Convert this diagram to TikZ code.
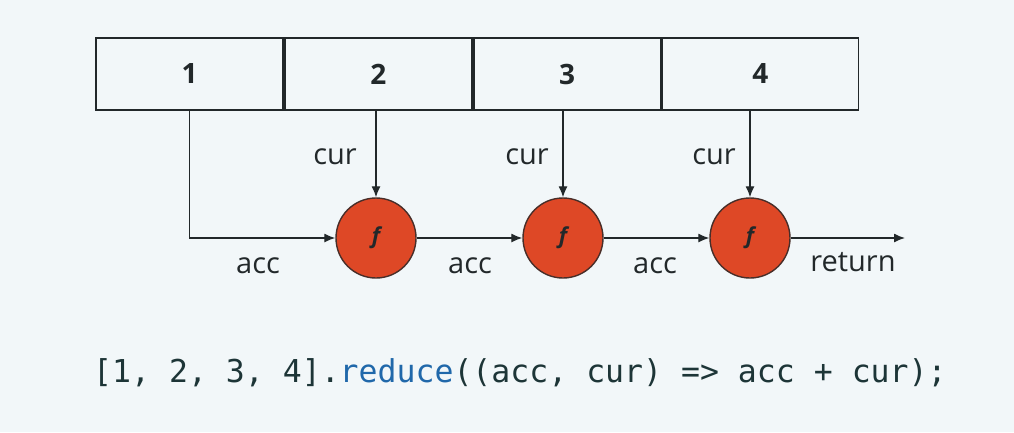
\documentclass[tikz,border=0pt]{standalone}
\usepackage{fontspec}
\setmainfont{Open Sans}
\setmonofont{DejaVu Sans Mono}
\usetikzlibrary{positioning,arrows.meta}

\definecolor{ink}{RGB}{34,40,42}
\definecolor{fred}{RGB}{222,72,38}
\definecolor{codeblue}{RGB}{32,104,170}
\definecolor{paper}{RGB}{242,247,249}

\begin{document}
\begin{tikzpicture}[x=1pt,y=1pt,yscale=-1,
  cell/.style={draw=ink, line width=1.8pt, minimum width=187pt, minimum height=72pt,
    inner sep=0pt, text=ink, font=\fontsize{28}{30}\selectfont\bfseries},
  fnode/.style={circle, draw=ink!80!fred, line width=1.4pt, fill=fred, minimum size=80pt,
    inner sep=0pt, text=ink, font=\fontsize{22}{24}\selectfont\bfseries\itshape},
  lbl/.style={text=ink, inner sep=0pt, font=\fontsize{29}{32}\selectfont},
  flow/.style={draw=ink, line width=1.3pt, -{Latex[length=11pt,width=9pt]}}
]
\fill[paper] (0,0) rectangle (1014,432);
\useasboundingbox (0,0) rectangle (1014,432);

% array cells
\node[cell] (c1) at (189.5,74) {1};
\node[cell, right=0pt of c1] (c2) {2};
\node[cell, right=0pt of c2] (c3) {3};
\node[cell, right=0pt of c3, minimum width=196pt] (c4) {4};

% reducer calls
\node[fnode] (f1) at (376,238) {f};
\node[fnode] (f2) at (563,238) {f};
\node[fnode] (f3) at (750,238) {f};
\coordinate (ret) at (905,238);

% connectors
\draw[flow] (c1.south) |- (f1.west);
\draw[flow] (c2.south -| f1) -- (f1.north);
\draw[flow] (c3.south -| f2) -- (f2.north);
\draw[flow] (c4.south -| f3) -- (f3.north);
\draw[flow] (f1.east) -- (f2.west);
\draw[flow] (f2.east) -- (f3.west);
\draw[flow] (f3.east) -- (ret);

% labels
\node[lbl, anchor=base east] (cur1) at (357,164) {cur};
\node[lbl, anchor=base east] (cur2) at (549,164) {cur};
\node[lbl, anchor=base east] (cur3) at (736,164) {cur};
\node[lbl, anchor=base] (acc1) at (258,273) {acc};
\node[lbl, anchor=base] (acc2) at (470,273) {acc};
\node[lbl, anchor=base] (acc3) at (655,273) {acc};
\node[lbl, anchor=base] (rtn) at (853,271) {return};

% code line
\node[anchor=base west, inner sep=0pt, text=ink!85!teal,
  font=\fontsize{31.5}{34}\selectfont\ttfamily] (code) at (93,382)
  {[1, 2, 3, 4].\textcolor{codeblue}{reduce}((acc, cur) => acc + cur);};
\end{tikzpicture}
\end{document}
